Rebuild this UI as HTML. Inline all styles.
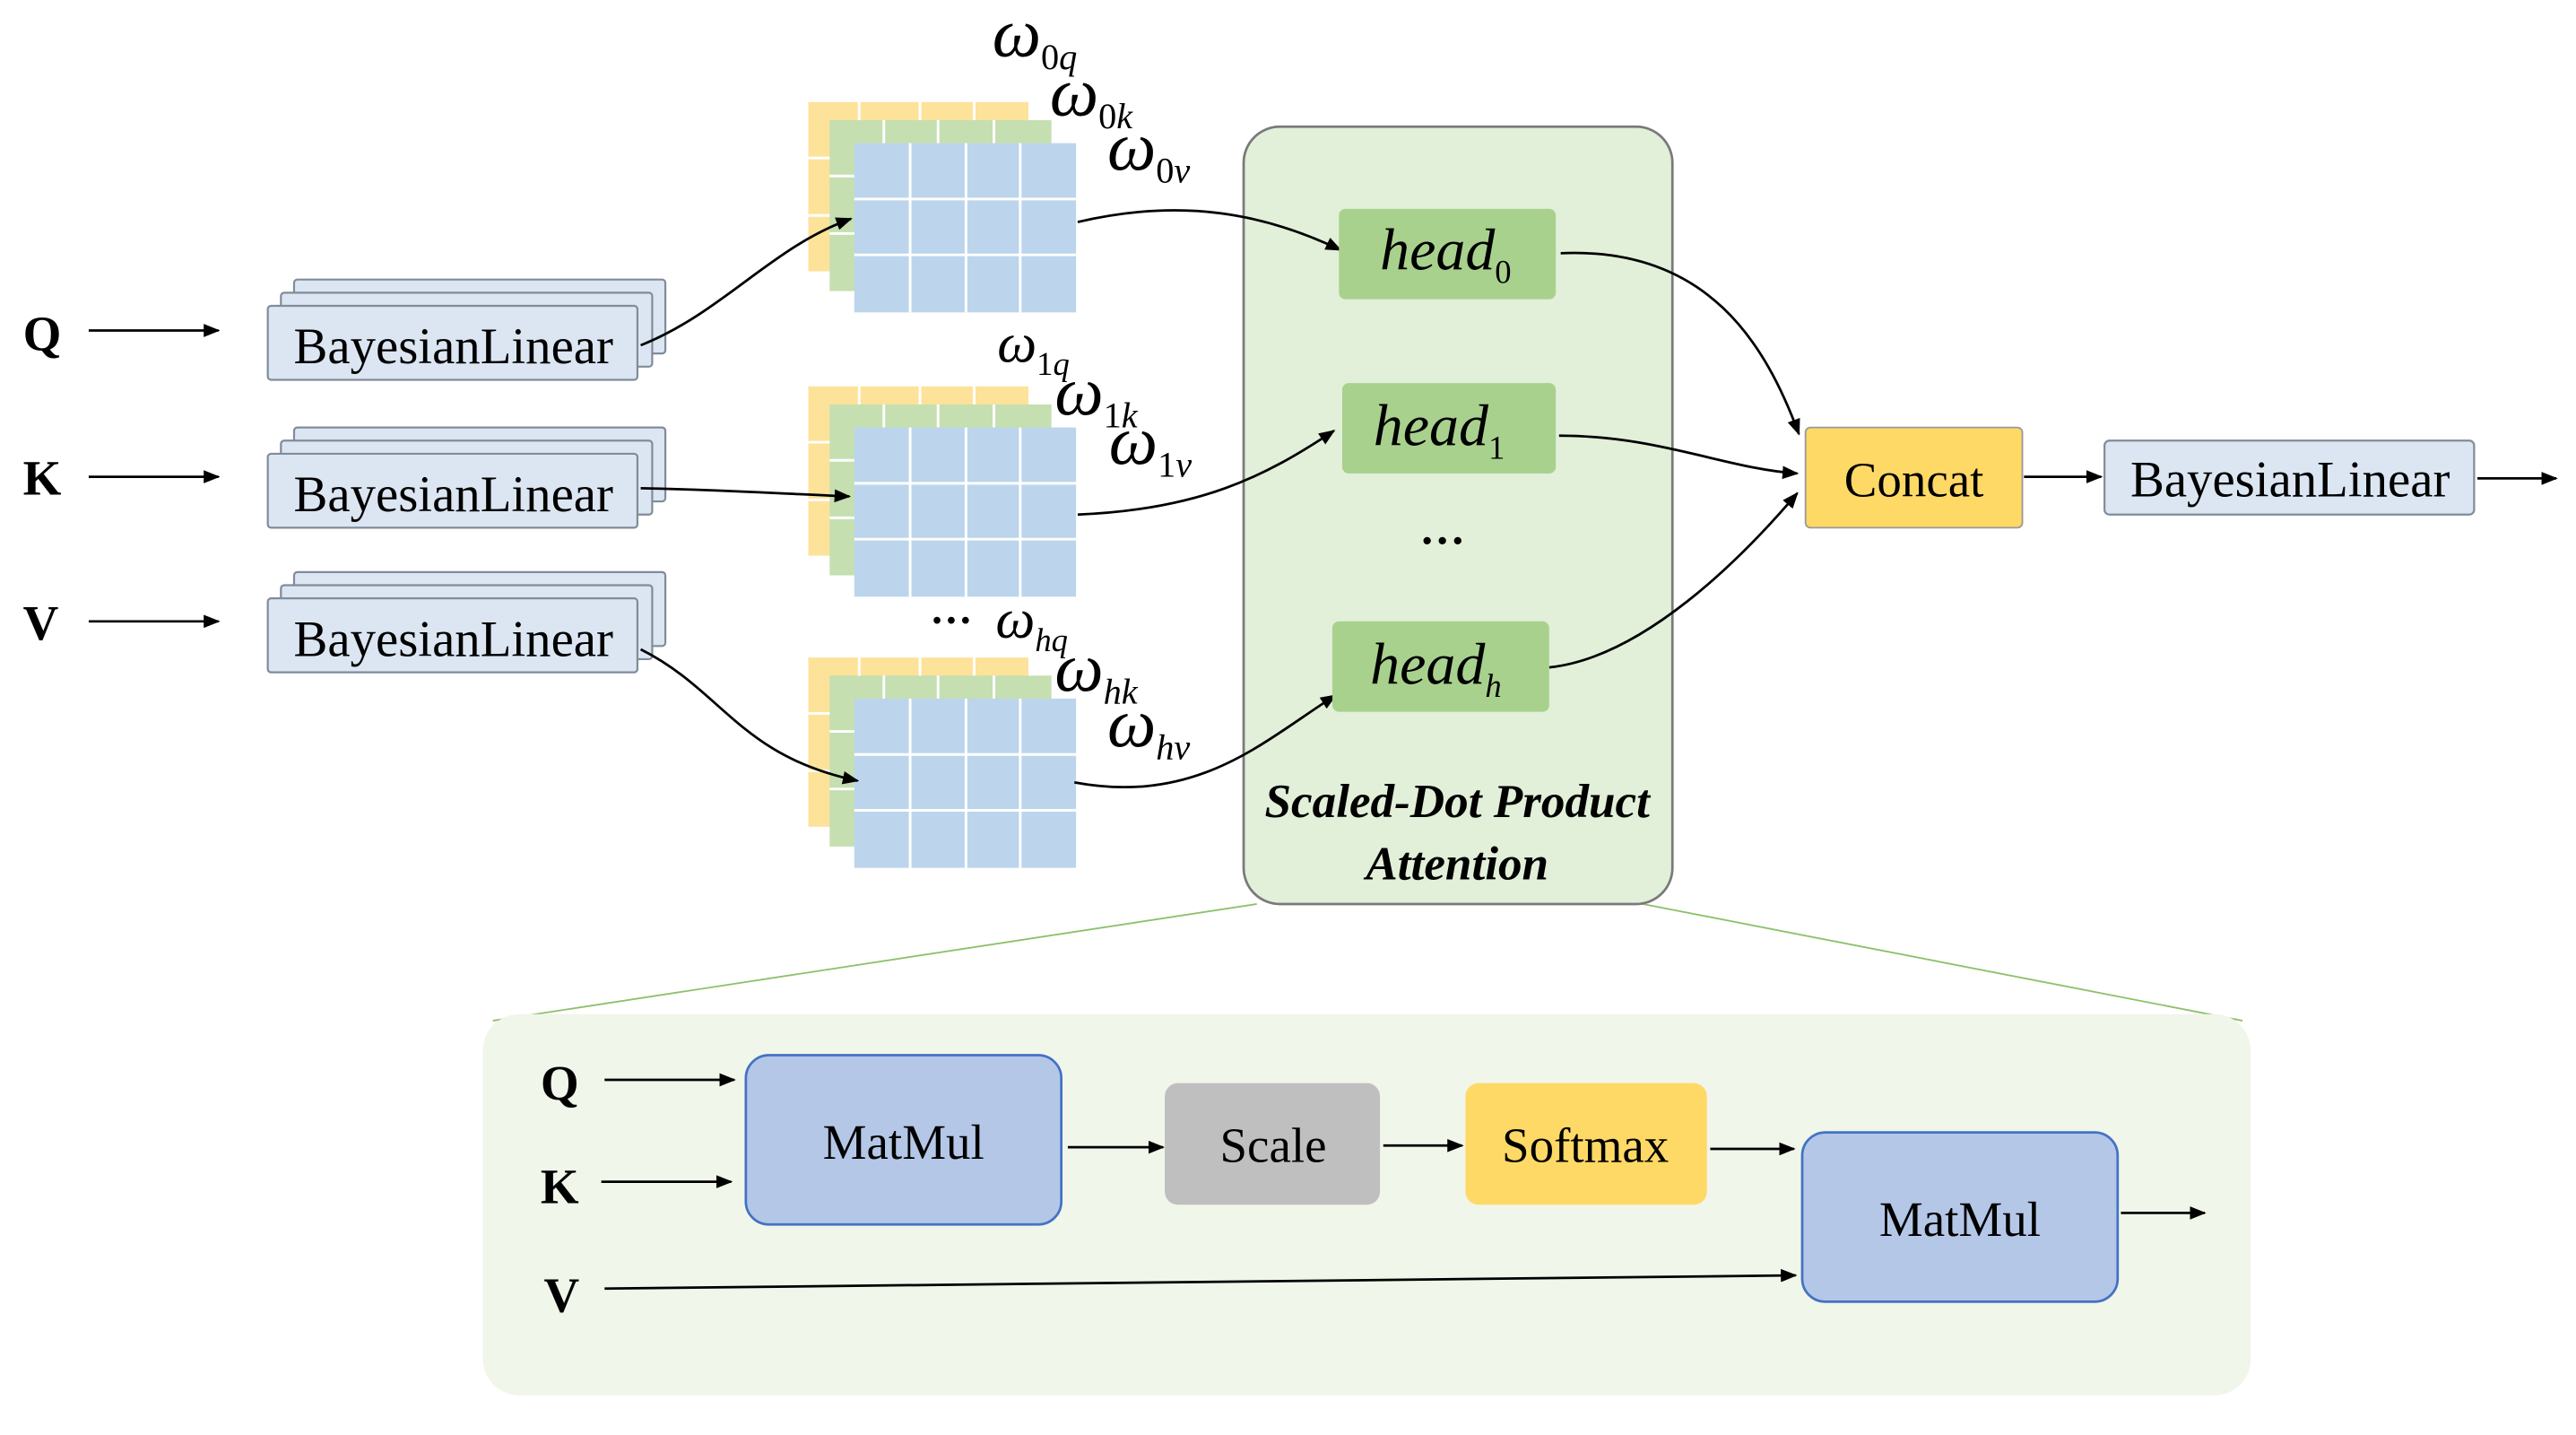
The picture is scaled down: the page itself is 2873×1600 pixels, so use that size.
<!DOCTYPE html>
<html><head><meta charset="utf-8"><style>html,body{margin:0;padding:0;background:#fff}svg{display:block}</style></head><body>
<svg width="2873" height="1600" viewBox="0 0 1568 873" xmlns="http://www.w3.org/2000/svg" font-family="Liberation Serif, serif">
<defs>
<marker id="a" markerWidth="10" markerHeight="8" refX="9" refY="4" orient="auto" markerUnits="userSpaceOnUse"><path d="M0,0 L10,4 L0,8 Z" fill="#000"/></marker>
<g id="mat">
<rect x="492" y="62" width="134" height="103" fill="#fde29a"/>
<rect x="505" y="73" width="135" height="104" fill="#c5dfb1"/>
<rect x="520" y="87" width="135" height="103" fill="#bcd5ec"/>
<g stroke="#fff" stroke-width="1.6">
<line x1="492" y1="96" x2="505" y2="96"/><line x1="492" y1="131" x2="505" y2="131"/>
<line x1="523" y1="62" x2="523" y2="73"/><line x1="560" y1="62" x2="560" y2="73"/><line x1="593" y1="62" x2="593" y2="73"/>
<line x1="505" y1="107" x2="520" y2="107"/><line x1="505" y1="142" x2="520" y2="142"/>
<line x1="538" y1="73" x2="538" y2="87"/><line x1="571" y1="73" x2="571" y2="87"/><line x1="605" y1="73" x2="605" y2="87"/>
<line x1="554" y1="87" x2="554" y2="190"/><line x1="588" y1="87" x2="588" y2="190"/><line x1="621" y1="87" x2="621" y2="190"/>
<line x1="520" y1="121" x2="655" y2="121"/><line x1="520" y1="155" x2="655" y2="155"/>
</g></g>
<g id="bl">
<rect x="179" y="170" width="226" height="45" fill="#dce6f2" stroke="#7f8c99" stroke-width="1.2" rx="2"/>
<rect x="171" y="178" width="226" height="45" fill="#dce6f2" stroke="#7f8c99" stroke-width="1.2" rx="2"/>
<rect x="163" y="186" width="225" height="45" fill="#dce6f2" stroke="#7f8c99" stroke-width="1.2" rx="2"/>
<text x="276" y="221" font-size="31" text-anchor="middle">BayesianLinear</text>
</g>
</defs>

<line x1="765" y1="550" x2="300" y2="621" stroke="#8cc16a" stroke-width="1"/>
<line x1="1000" y1="550" x2="1365" y2="621" stroke="#8cc16a" stroke-width="1"/>
<rect x="294" y="617" width="1076" height="232" rx="22" fill="#f0f6ea"/>

<rect x="757" y="77" width="261" height="473" rx="22" fill="#e2efd9" stroke="#7a7a7a" stroke-width="1.5"/>

<use href="#mat"/>
<use href="#mat" transform="translate(0,173)"/>
<use href="#mat" transform="translate(0,338)"/>

<use href="#bl"/>
<use href="#bl" transform="translate(0,90)"/>
<use href="#bl" transform="translate(0,178)"/>

<g font-weight="bold" font-size="30">
<text x="14" y="213">Q</text><text x="14" y="301">K</text><text x="14" y="389">V</text>
</g>
<g stroke="#000" stroke-width="1.5" fill="none" marker-end="url(#a)">
<line x1="54" y1="201" x2="133" y2="201"/>
<line x1="54" y1="290" x2="133" y2="290"/>
<line x1="54" y1="378" x2="133" y2="378"/>
<path d="M390,210 C440,190 470,150 518,133"/>
<path d="M390,297 C440,298 470,300 517,302"/>
<path d="M390,395 C440,420 450,460 522,475"/>
<path d="M656,135 C720,120 770,130 816,152"/>
<path d="M656,313 C730,310 770,290 812,262"/>
<path d="M654,476 C730,490 770,450 813,423"/>
<path d="M950,154 C1040,150 1075,210 1095,264"/>
<path d="M949,265 C1010,265 1050,285 1094,288"/>
<path d="M943,406 C1000,400 1060,340 1094,300"/>
<line x1="1232" y1="290" x2="1279" y2="290"/>
<line x1="1508" y1="291" x2="1556" y2="291"/>
</g>

<g font-style="italic" font-size="42">
<text x="604" y="34">ω<tspan font-size="22" dy="8"><tspan font-style="normal">0</tspan>q</tspan></text>
<text x="639" y="70">ω<tspan font-size="22" dy="8"><tspan font-style="normal">0</tspan>k</tspan></text>
<text x="674" y="103">ω<tspan font-size="22" dy="8"><tspan font-style="normal">0</tspan>v</tspan></text>
<text x="607" y="220" font-size="34">ω<tspan font-size="20" dy="8"><tspan font-style="normal">1</tspan>q</tspan></text>
<text x="642" y="252">ω<tspan font-size="22" dy="8"><tspan font-style="normal">1</tspan>k</tspan></text>
<text x="675" y="282">ω<tspan font-size="22" dy="8"><tspan font-style="normal">1</tspan>v</tspan></text>
<text x="606" y="388" font-size="34">ω<tspan font-size="20" dy="8">hq</tspan></text>
<text x="642" y="420">ω<tspan font-size="22" dy="8">hk</tspan></text>
<text x="674" y="454">ω<tspan font-size="22" dy="8">hv</tspan></text>
</g>
<text x="566" y="386" font-size="26" font-weight="bold">···</text>

<rect x="815" y="127" width="132" height="55" rx="4" fill="#a9d18e"/>
<rect x="817" y="233" width="130" height="55" rx="4" fill="#a9d18e"/>
<rect x="811" y="378" width="132" height="55" rx="4" fill="#a9d18e"/>
<g font-style="italic" font-size="36">
<text x="840" y="164">head<tspan font-size="20" dy="8" font-style="normal">0</tspan></text>
<text x="836" y="271">head<tspan font-size="20" dy="8" font-style="normal">1</tspan></text>
<text x="834" y="416">head<tspan font-size="20" dy="8">h</tspan></text>
</g>
<text x="864" y="338" font-size="28" font-weight="bold">···</text>
<text x="887" y="497" font-size="29" font-weight="bold" font-style="italic" text-anchor="middle">Scaled-Dot Product</text>
<text x="887" y="535" font-size="29" font-weight="bold" font-style="italic" text-anchor="middle">Attention</text>

<rect x="1099" y="260" width="132" height="61" rx="3" fill="#ffd966" stroke="#999" stroke-width="1"/>
<text x="1165" y="302" font-size="30" text-anchor="middle">Concat</text>
<rect x="1281" y="268" width="225" height="45" rx="3" fill="#dce6f2" stroke="#7f8c99" stroke-width="1.2"/>
<text x="1394" y="302" font-size="31" text-anchor="middle">BayesianLinear</text>

<g font-weight="bold" font-size="30">
<text x="329" y="669">Q</text><text x="329" y="732">K</text><text x="331" y="798">V</text>
</g>
<rect x="454" y="642" width="192" height="103" rx="14" fill="#b4c7e7" stroke="#4472c4" stroke-width="1.5"/>
<text x="550" y="705" font-size="30" text-anchor="middle">MatMul</text>
<rect x="709" y="659" width="131" height="74" rx="8" fill="#bfbfbf"/>
<text x="775" y="707" font-size="30" text-anchor="middle">Scale</text>
<rect x="892" y="659" width="147" height="74" rx="8" fill="#ffd966"/>
<text x="965" y="707" font-size="30" text-anchor="middle">Softmax</text>
<rect x="1097" y="689" width="192" height="103" rx="14" fill="#b4c7e7" stroke="#4472c4" stroke-width="1.5"/>
<text x="1193" y="752" font-size="30" text-anchor="middle">MatMul</text>
<g stroke="#000" stroke-width="1.5" fill="none" marker-end="url(#a)">
<line x1="368" y1="657" x2="447" y2="657"/>
<line x1="366" y1="719" x2="445" y2="719"/>
<line x1="368" y1="784" x2="1093" y2="776"/>
<line x1="650" y1="698" x2="708" y2="698"/>
<line x1="842" y1="697" x2="890" y2="697"/>
<line x1="1041" y1="699" x2="1092" y2="699"/>
<line x1="1291" y1="738" x2="1342" y2="738"/>
</g>
</svg>
</body></html>
